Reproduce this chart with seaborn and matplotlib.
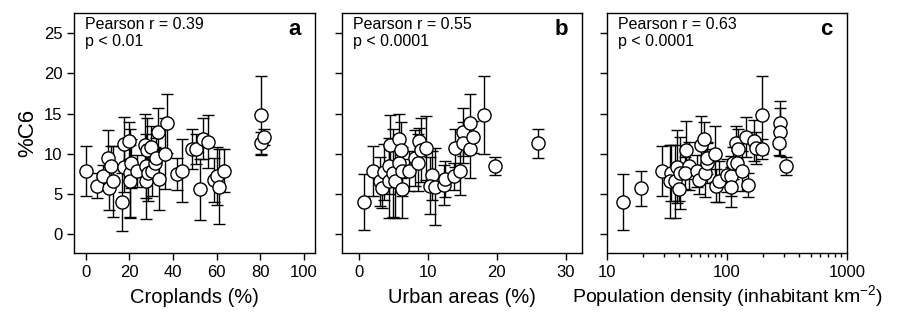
import numpy as np
import pandas as pd
import seaborn as sns
import matplotlib.pyplot as plt
from matplotlib.ticker import FixedLocator, LogLocator, NullFormatter

# panel a: croplands (%)
crop_x = [0, 5.3, 8.1, 10.4, 10.8, 11.6, 12.7, 16.5, 17.7, 17.7, 20.0, 20.3, 20.8, 20.2,
          23.4, 27.2, 27.6, 27.6, 28.2, 28.7, 29.8, 30.2, 31.8, 32.2, 33.3, 33.4, 36.3,
          37.4, 41.7, 44.0, 48.9, 50.5, 52.4, 53.6, 56.2, 58.8, 60.3, 61.2, 63.4, 80.5,
          80.3, 81.8]
crop_y = [7.9, 6.05, 7.2, 9.5, 5.7, 8.5, 6.55, 4.0, 11.2, 8.4, 11.65, 7.6, 8.8, 6.55,
          7.9, 11.1, 8.5, 6.55, 10.5, 7.6, 10.9, 7.8, 8.9, 9.45, 12.7, 6.85, 10.0,
          13.8, 7.45, 7.9, 10.6, 10.6, 5.6, 11.9, 11.5, 6.75, 7.25, 5.9, 7.9, 14.85,
          11.3, 12.05]
crop_err = [3.1, 1.6, 1.4, 3.5, 2.7, 2.5, 4.4, 3.6, 3.4, 3.2, 2.35, 5.5, 3.0, 4.5,
            2.0, 3.9, 4.0, 4.7, 4.0, 3.5, 2.5, 3.0, 2.0, 2.5, 3.0, 3.9, 4.4,
            3.7, 2.0, 3.9, 2.5, 1.9, 3.8, 2.6, 3.3, 2.7, 3.6, 4.7, 2.7, 4.85,
            1.4, 1.0]

# panel b: urban areas (%)
urban_x = [0.68, 2.1, 3.1, 3.3, 3.7, 4.35, 4.5, 4.4, 5.0, 5.3, 5.75, 5.85, 6.1, 6.2,
           6.2, 7.3, 8.2, 8.5, 8.65, 9.0, 9.75, 10.6, 10.3, 11.1, 12.4, 12.5, 13.8,
           13.9, 14.7, 15.1, 15.1, 16.1, 16.1, 16.6, 18.1, 19.7, 26.0]
urban_y = [4.0, 7.9, 6.55, 5.7, 7.7, 6.55, 11.1, 8.5, 7.6, 6.55, 11.9, 8.8, 10.5, 5.65,
           7.8, 7.9, 9.45, 8.9, 11.65, 10.5, 10.7, 7.3, 6.05, 5.9, 6.1, 6.85, 7.2,
           10.7, 7.9, 12.7, 11.4, 13.8, 10.6, 12.05, 14.85, 8.5, 11.3]
urban_err = [3.5, 3.1, 3.0, 2.5, 3.5, 4.5, 3.7, 3.5, 5.5, 4.6, 3.0, 3.0, 3.5, 3.7,
             3.0, 2.5, 3.5, 3.5, 1.5, 4.0, 4.0, 3.0, 3.5, 4.8, 2.5, 2.2, 1.7,
             2.4, 3.0, 3.0, 2.5, 3.7, 3.6, 2.0, 4.85, 1.1, 1.8]

# panel c: population density (inhabitant km-2)
pop_x = [13.6, 19.3, 28.7, 34.2, 33.7, 37.1, 38.3, 40.8, 40.3, 45.8, 48.9, 45.0, 56.2,
         59.2, 60.7, 65.2, 66.0, 68.1, 69.0, 80.0, 81.5, 86.3, 101, 109, 109, 112,
         120, 124, 121, 135, 145, 150, 169, 176, 196, 198, 278, 278, 273, 312]
pop_y = [4.0, 5.7, 7.9, 7.6, 6.55, 6.55, 8.4, 7.6, 5.65, 10.5, 8.5, 7.6, 7.9,
         6.75, 11.1, 11.9, 7.6, 8.9, 9.45, 10.0, 6.05, 6.55, 7.3, 7.2, 5.9, 8.8,
         11.4, 10.6, 8.9, 7.9, 12.05, 6.1, 11.65, 10.7, 10.6, 14.85, 13.8, 12.7, 11.3, 8.5]
pop_err = [3.5, 2.2, 3.1, 3.5, 4.5, 4.5, 4.5, 4.5, 1.5, 3.6, 3.0, 2.0, 2.0,
           1.8, 3.6, 2.0, 3.0, 2.5, 2.0, 3.5, 2.0, 2.5, 2.0, 2.5, 2.5, 2.0,
           2.0, 2.5, 1.5, 2.5, 2.5, 1.5, 2.5, 2.0, 1.2, 4.85, 2.8, 3.0, 1.5, 1.1]

panels = [
    (crop_x, crop_y, crop_err, "Croplands (%)", "Pearson r = 0.39\np < 0.01", "a"),
    (urban_x, urban_y, urban_err, "Urban areas (%)", "Pearson r = 0.55\np < 0.0001", "b"),
    (pop_x, pop_y, pop_err, "Population density (inhabitant km$^{-2}$)",
     "Pearson r = 0.63\np < 0.0001", "c"),
]

sns.set_style("ticks")
plt.rcParams['font.family'] = ['Liberation Sans', 'DejaVu Sans']
plt.rcParams['mathtext.fontset'] = 'custom'
plt.rcParams['mathtext.rm'] = 'Liberation Sans'
for key in ['text.color', 'axes.labelcolor', 'xtick.color', 'ytick.color', 'axes.edgecolor']:
    plt.rcParams[key] = 'black'

fig = plt.figure(figsize=(9.17, 3.14), dpi=100)
lefts = [0.081, 0.3726, 0.6616]
axes = [fig.add_axes([l, 0.193, 0.2625, 0.765]) for l in lefts]

for i, (ax, (x, y, err, xlabel, stat, letter)) in enumerate(zip(axes, panels)):
    df = pd.DataFrame({"x": x, "y": y, "err": err})
    ax.errorbar(df["x"], df["y"], yerr=df["err"], fmt="none", ecolor="black",
                elinewidth=1, capsize=4, capthick=1, zorder=1)
    sns.scatterplot(data=df, x="x", y="y", ax=ax, s=90, color="white",
                    edgecolor="black", linewidth=1, zorder=2, legend=False)
    ax.set_ylim(-2.4, 27.5)
    ax.set_yticks([0, 5, 10, 15, 20, 25])
    for sp in ax.spines.values():
        sp.set_visible(True)
        sp.set_linewidth(1)
        sp.set_color("black")
    ax.tick_params(direction="out", length=5, width=1, colors="black", labelsize=12)
    # x labels on a common baseline (the km-2 superscript would push panel c lower)
    ax.set_xlabel("")
    ax.text(0.5, -0.205, xlabel, transform=ax.transAxes, ha="center", va="baseline",
            fontsize=14.5 if i < 2 else 14)
    if i == 0:
        ax.set_ylabel("%C6", fontsize=16, labelpad=4)
    else:
        ax.set_ylabel("")
        ax.set_yticklabels([])
    ax.text(0.045, 0.985, stat, transform=ax.transAxes, ha="left", va="top",
            fontsize=11.5, linespacing=1.15)
    ax.text(0.94, 0.975, letter, transform=ax.transAxes, ha="right", va="top",
            fontsize=16, fontweight="bold")

axes[0].set_xlim(-5.2, 105)
axes[0].set_xticks([0, 20, 40, 60, 80, 100])
axes[1].set_xlim(-2.5, 32.4)
axes[1].set_xticks([0, 10, 20, 30])
axes[2].set_xscale("log")
axes[2].set_xlim(10, 1010)
axes[2].xaxis.set_major_locator(FixedLocator([10, 100, 1000]))
axes[2].set_xticklabels(["10", "100", "1000"])
axes[2].xaxis.set_minor_locator(LogLocator(base=10, subs=np.arange(2, 10)))
axes[2].xaxis.set_minor_formatter(NullFormatter())
axes[2].tick_params(axis="x", which="minor", direction="out", length=3, width=1)

fig.savefig("out.png", dpi=100)
